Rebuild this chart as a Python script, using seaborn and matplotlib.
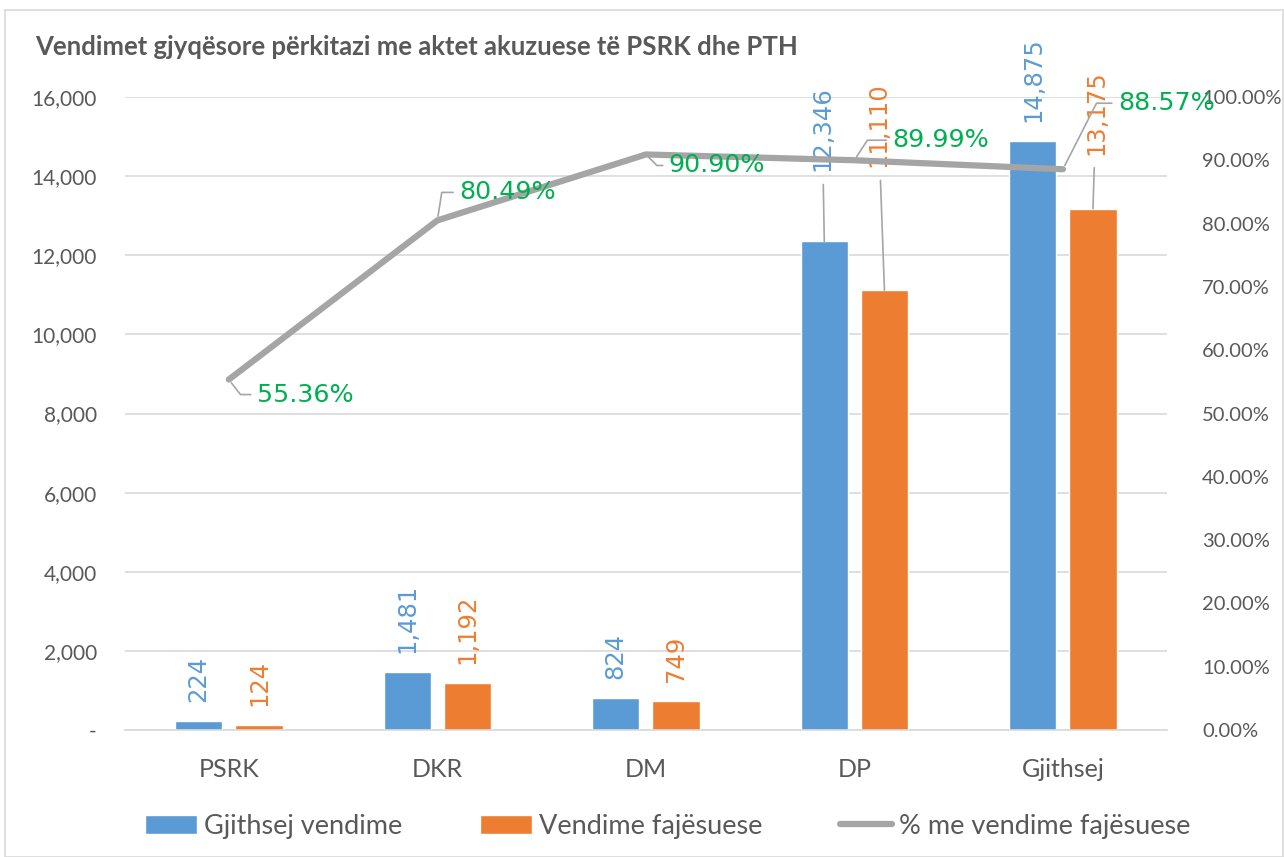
import numpy as np
import pandas as pd
import matplotlib.pyplot as plt
import seaborn as sns
from matplotlib.patches import Patch, Rectangle
from matplotlib.lines import Line2D
from matplotlib.ticker import FuncFormatter, MultipleLocator

categories = ['PSRK', 'DKR', 'DM', 'DP', 'Gjithsej']
total_decisions = [224, 1481, 824, 12346, 14875]
guilty_decisions = [124, 1192, 749, 11110, 13175]
guilty_pct = [55.36, 80.49, 90.90, 89.99, 88.57]
series_names = ['Gjithsej vendime', 'Vendime fajësuese']
line_name = '% me vendime fajësuese'
title = 'Vendimet gjyqësore përkitazi me aktet akuzuese të PSRK dhe PTH'

BLUE = '#5B9BD5'
ORANGE = '#ED7D31'
GRAY = '#A5A5A5'
GREEN = '#00B050'
TXT = '#595959'
GRID = '#D9D9D9'

df = pd.DataFrame({
    'category': categories * 2,
    'series': [series_names[0]] * len(categories) + [series_names[1]] * len(categories),
    'value': total_decisions + guilty_decisions,
})

sns.set_theme(style='white')
plt.rcParams['font.family'] = ['Lato', 'DejaVu Sans']

fig = plt.figure(figsize=(12.84, 8.57), dpi=100)
ax = fig.add_axes([0.097, 0.148, 0.812, 0.739])

sns.barplot(data=df, x='category', y='value', hue='series', order=categories,
            hue_order=series_names, palette=[BLUE, ORANGE], saturation=1,
            width=0.577, gap=0.215, legend=False, ax=ax)

ax.set_ylim(0, 16000)
ax.set_xlim(-0.5, len(categories) - 0.5)
ax.yaxis.set_major_locator(MultipleLocator(2000))
ax.yaxis.set_major_formatter(FuncFormatter(lambda v, p: '-' if v == 0 else f'{v:,.0f}'))
ax.grid(axis='y', color=GRID, lw=1.2)
ax.set_axisbelow(True)
ax.set_xlabel('')
ax.set_ylabel('')
for s in ['top', 'left', 'right']:
    ax.spines[s].set_visible(False)
ax.spines['bottom'].set_color(GRID)
ax.spines['bottom'].set_linewidth(1.2)
ax.tick_params(axis='y', length=0, pad=20, labelsize=15, labelcolor=TXT)
ax.tick_params(axis='x', length=0, pad=20, labelsize=18, labelcolor=TXT)

# bar data labels; a few are lifted with a leader line like in the original
lifted = {(0, 3): (-2, 70), (1, 3): (-6, 123), (1, 4): (3, 54)}
for si, cont in enumerate(ax.containers):
    col = [BLUE, ORANGE][si]
    vals = [total_decisions, guilty_decisions][si]
    for ci, bar in enumerate(cont):
        xc = bar.get_x() + bar.get_width() / 2
        h = bar.get_height()
        if (si, ci) in lifted:
            ax.annotate(f'{vals[ci]:,}', xy=(xc, h), xytext=lifted[(si, ci)],
                        textcoords='offset pixels', rotation=90, ha='center', va='bottom',
                        fontsize=17.5, color=col, family='DejaVu Sans',
                        arrowprops=dict(arrowstyle='-', color=GRAY, lw=1.2, shrinkA=7, shrinkB=0))
        else:
            ax.annotate(f'{vals[ci]:,}', xy=(xc, h), xytext=(0, 19),
                        textcoords='offset pixels', rotation=90, ha='center', va='bottom',
                        fontsize=17.5, color=col, family='DejaVu Sans')

ax2 = ax.twinx()
sns.lineplot(x=np.arange(len(categories)), y=guilty_pct, color=GRAY, lw=4.5, ax=ax2)
ax2.set_ylim(0, 100)
ax2.yaxis.set_major_locator(MultipleLocator(10))
ax2.yaxis.set_major_formatter(FuncFormatter(lambda v, p: f'{v:.2f}%'))
ax2.tick_params(axis='y', length=0, pad=25, labelsize=14.5, labelcolor=TXT)
for s in ax2.spines.values():
    s.set_visible(False)
ax2.grid(False)

pct_offsets = [(28, -15), (22, 28), (23, -11), (38, 20), (55, 66)]
pct_angles = [-52, 81, -45, 57, 63]
for i, p in enumerate(guilty_pct):
    ax2.annotate(f'{p:.2f}%', xy=(i, p), xytext=pct_offsets[i], textcoords='offset pixels',
                 ha='left', va='center', fontsize=18.3, color=GREEN, family='DejaVu Sans',
                 arrowprops=dict(arrowstyle='-', color=GRAY, lw=1.2, shrinkA=2, shrinkB=3,
                                 connectionstyle=f'angle,angleA=0,angleB={pct_angles[i]},rad=0'))

fig.text(0.027, 0.945, title, fontsize=18.5, fontweight='bold', color=TXT, va='center')

handles = [Patch(facecolor=BLUE), Patch(facecolor=ORANGE), Line2D([0], [0], color=GRAY, lw=4.5)]
fig.legend(handles, series_names + [line_name], loc='center', bbox_to_anchor=(0.52, 0.036),
           ncol=3, frameon=False, fontsize=19.5, labelcolor=TXT, handlelength=1.9,
           handletextpad=0.25, columnspacing=2.9)

fig.patches.append(Rectangle((0.004, 0.0), 0.995, 0.988, transform=fig.transFigure,
                             fill=False, edgecolor=GRID, lw=1.2))

fig.savefig('out.png', dpi=100)
